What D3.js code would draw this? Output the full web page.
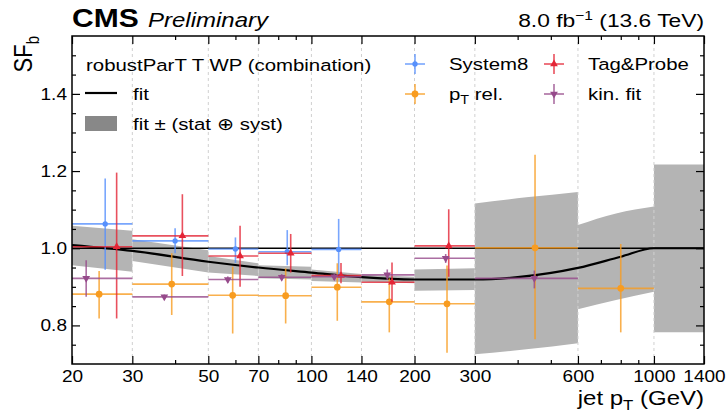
<!DOCTYPE html>
<meta charset="utf-8">
<style>
  body { margin: 0; background: #fff; }
  svg { display: block; font-family: "Liberation Sans", Arial, Helvetica, sans-serif; }
</style>
<svg width="728" height="416"></svg>
<script src="https://cdn.jsdelivr.net/npm/d3@7"></script>
<script>
//
// DATA
//
var binEdges = [20, 30, 50, 70, 100, 140, 200, 300, 600, 1000, 1400];
var xTicks = [20, 30, 50, 70, 100, 140, 200, 300, 600, 1000, 1400],
    xMinor = [40, 60, 80, 90, 400, 500, 700, 800, 900],
    yTicks = [0.8, 1.0, 1.2, 1.4],
    yMinor = [0.75, 0.85, 0.9, 0.95, 1.05, 1.1, 1.15, 1.25, 1.3, 1.35, 1.45, 1.5];

// fit curve
var fitPt = [20, 30, 50, 70, 100, 140, 200, 300, 400, 600, 800, 1000, 1400],
    fitSF = [1.008, 0.993, 0.965, 0.950, 0.937, 0.925, 0.919, 0.919, 0.925, 0.949, 0.978, 1.0, 1.0];

// fit +- (stat + syst) band, one group per bin
var bandPt = [[20, 30], [30, 50], [50, 70], [70, 100], [100, 140], [140, 200], [200, 300], [300, 424, 600], [600, 775, 1000], [1000, 1400]],
    bandHi = [[1.058, 1.045], [1.023, 0.995], [0.980, 0.961], [0.956, 0.952], [0.945, 0.933], [0.931, 0.926], [0.945, 0.948], [1.116, 1.132, 1.146], [1.060, 1.090, 1.108], [1.217, 1.217]],
    bandLo = [[0.956, 0.939], [0.967, 0.937], [0.937, 0.928], [0.922, 0.919], [0.915, 0.911], [0.913, 0.909], [0.890, 0.892], [0.725, 0.738, 0.754], [0.842, 0.866, 0.887], [0.782, 0.782]];

// System8
var s8Pt = [25.0, 40.0, 60.0, 85.0, 120.1],
    s8SF = [1.063, 1.019, 0.998, 0.991, 0.997],
    s8Hi = [1.181, 1.052, 1.028, 1.047, 1.076],
    s8Lo = [0.944, 0.987, 0.962, 0.956, 0.931];

// pT rel.
var ptrelPt = [24.0, 39.1, 58.9, 84.1, 119.0, 168.8, 248.8, 449.6, 800],
    ptrelSF = [0.881, 0.907, 0.878, 0.877, 0.899, 0.861, 0.856, 1.001, 0.896],
    ptrelHi = [0.941, 0.987, 0.952, 0.948, 0.961, 0.922, 0.955, 1.242, 1.011],
    ptrelLo = [0.818, 0.827, 0.779, 0.805, 0.812, 0.782, 0.729, 0.764, 0.782];

// Tag&Probe
var tpPt = [27.0, 42.0, 61.9, 87.0, 122.0, 171.9, 251.7],
    tpSF = [1.004, 1.032, 0.980, 0.987, 0.929, 0.912, 1.006],
    tpHi = [1.196, 1.140, 1.058, 1.037, 0.962, 0.963, 1.101],
    tpLo = [0.818, 0.928, 0.900, 0.937, 0.909, 0.861, 0.926];

// kin. fit
var kinPt = [22.0, 37.2, 57.0, 81.9, 116.6, 166.5, 246.6, 447.5],
    kinSF = [0.922, 0.874, 0.919, 0.925, 0.926, 0.931, 0.974, 0.922],
    kinHi = [0.969, 0.880, 0.927, 0.933, 0.934, 0.945, 0.985, 0.942],
    kinLo = [0.874, 0.868, 0.911, 0.917, 0.918, 0.918, 0.962, 0.896];

var series = [
  {name: "System8", color: "#5790fc", type: d3.symbolCircle, size: 22, rot: 0, pt: s8Pt, sf: s8SF, hi: s8Hi, lo: s8Lo},
  {name: "pT rel.", color: "#f89c20", type: d3.symbolCircle, size: 36, rot: 0, pt: ptrelPt, sf: ptrelSF, hi: ptrelHi, lo: ptrelLo},
  {name: "Tag&Probe", color: "#e42536", type: d3.symbolTriangle, size: 26, rot: 0, pt: tpPt, sf: tpSF, hi: tpHi, lo: tpLo},
  {name: "kin. fit", color: "#964a8b", type: d3.symbolTriangle, size: 26, rot: 180, pt: kinPt, sf: kinSF, hi: kinHi, lo: kinLo}
];

//
// SVG SETUP
//
var svg = d3.select("svg"),
    margin = {top: 36, left: 72},
    width = 632,
    height = 328,
    stretch = 1.2; // the reference text is drawn wider than it is tall

var g = svg.append("g").attr("transform", "translate(" + margin.left + "," + margin.top + ")");

var x = d3.scaleLog().domain([20, 1400]).range([0, width]);
var y = d3.scaleLinear().domain([0.7, 1.55]).range([height, 0]);

// text helper: a text node inside a horizontally stretched group
function label(parent, px, py, size, anchor, sx) {
  return parent.append("g")
      .attr("transform", "translate(" + px + "," + py + ") scale(" + (sx || stretch) + ",1)")
    .append("text")
      .attr("font-size", size)
      .attr("text-anchor", anchor || "start");
}

// BAND
var area = d3.area()
    .curve(d3.curveMonotoneX)
    .x(function(d) { return x(d.pt); })
    .y0(function(d) { return y(d.lo); })
    .y1(function(d) { return y(d.hi); });

bandPt.forEach(function(pts, i) {
  var rows = pts.map(function(p, j) { return {pt: p, hi: bandHi[i][j], lo: bandLo[i][j]}; });
  g.append("path")
    .datum(rows)
    .attr("d", area)
    .attr("fill", "#b4b4b4");
});

// GRID (vertical dashed lines at the labelled ticks)
g.append("g")
  .selectAll("line")
  .data(xTicks.slice(1, -1))
  .enter().append("line")
    .attr("x1", function(d) { return x(d); })
    .attr("x2", function(d) { return x(d); })
    .attr("y1", 0)
    .attr("y2", height)
    .attr("stroke", "#d0d0d0")
    .attr("stroke-width", 1)
    .attr("stroke-dasharray", "3,3");

// reference line at SF = 1
g.append("line")
  .attr("x1", 0).attr("x2", width)
  .attr("y1", y(1)).attr("y2", y(1))
  .attr("stroke", "#000")
  .attr("stroke-width", 1.5);

// FIT LINE
var line = d3.line()
    .curve(d3.curveMonotoneX)
    .x(function(d, i) { return x(fitPt[i]); })
    .y(function(d) { return y(d); });

g.append("path")
  .datum(fitSF)
  .attr("d", line)
  .attr("fill", "none")
  .attr("stroke", "#000")
  .attr("stroke-width", 2.2);

// DATA POINTS WITH ERROR BARS
series.forEach(function(s) {
  var sg = g.append("g");
  s.pt.forEach(function(p, i) {
    var b = d3.bisectRight(binEdges, p) - 1;
    sg.append("line")
      .attr("x1", x(binEdges[b])).attr("x2", x(binEdges[b + 1]))
      .attr("y1", y(s.sf[i])).attr("y2", y(s.sf[i]))
      .attr("stroke", s.color).attr("stroke-opacity", 0.8).attr("stroke-width", 1.6);
    sg.append("line")
      .attr("x1", x(p)).attr("x2", x(p))
      .attr("y1", y(s.hi[i])).attr("y2", y(s.lo[i]))
      .attr("stroke", s.color).attr("stroke-opacity", 0.8).attr("stroke-width", 1.6);
    sg.append("path")
      .attr("d", d3.symbol().type(s.type).size(s.size))
      .attr("transform", "translate(" + x(p) + "," + y(s.sf[i]) + ") rotate(" + s.rot + ")")
      .attr("fill", s.color);
  });
});

// AXES (ticks point inward on all four sides)
function tickAxis(axis, values, len, labels) {
  return axis.tickValues(values).tickSize(-len).tickSizeOuter(0).tickPadding(5)
    .tickFormat(labels ? labels : "");
}

var gx = g.append("g").attr("transform", "translate(0," + height + ")")
  .call(tickAxis(d3.axisBottom(x), xTicks, 8, d3.format("d")));
g.append("g").attr("transform", "translate(0," + height + ")")
  .call(tickAxis(d3.axisBottom(x), xMinor, 4));
g.append("g").call(tickAxis(d3.axisTop(x), xTicks, 8));
g.append("g").call(tickAxis(d3.axisTop(x), xMinor, 4));

var gy = g.append("g").call(tickAxis(d3.axisLeft(y), yTicks, 8, d3.format(".1f")));
g.append("g").call(tickAxis(d3.axisLeft(y), yMinor, 4));
g.append("g").attr("transform", "translate(" + width + ",0)").call(tickAxis(d3.axisRight(y), yTicks, 8));
g.append("g").attr("transform", "translate(" + width + ",0)").call(tickAxis(d3.axisRight(y), yMinor, 4));

g.selectAll(".domain").remove();
g.selectAll(".tick line").attr("stroke", "#000").attr("stroke-width", 1.2);
g.selectAll(".tick text").attr("fill", "#000").attr("font-family", null).attr("font-size", 17)
  .attr("transform", "scale(1.12,1)");
gx.selectAll(".tick text").attr("dy", "0.75em");
gy.selectAll(".tick text").attr("x", -4.5);

// frame
g.append("rect")
  .attr("width", width).attr("height", height)
  .attr("fill", "none").attr("stroke", "#000").attr("stroke-width", 1.5);

// AXIS TITLES
var xl = label(svg, margin.left + width, 405, 20, "end");
xl.append("tspan").text("jet p");
xl.append("tspan").attr("font-size", 14).attr("dy", 5).text("T");
xl.append("tspan").attr("dy", -5).text(" (GeV)");

var yl = svg.append("g")
    .attr("transform", "translate(32," + margin.top + ") scale(" + stretch + ",1) rotate(-90)")
  .append("text")
    .attr("text-anchor", "end").attr("font-size", 22);
yl.append("tspan").text("SF");
yl.append("tspan").attr("font-size", 15).attr("dy", 6).text("b");

// HEADER
label(svg, margin.left, 27, 25).attr("font-weight", "bold").text("CMS");
label(svg, 148, 27, 20).attr("font-style", "italic").text("Preliminary");

var lumi = label(svg, margin.left + width, 27, 19, "end");
lumi.append("tspan").text("8.0 fb");
lumi.append("tspan").attr("font-size", 13).attr("dy", -7).text("\u22121");
lumi.append("tspan").attr("dy", 7).text(" (13.6 TeV)");

// LEGEND (left: fit)
var lg = svg.append("g");
label(lg, 86, 71, 17).text("robustParT T WP (combination)");
lg.append("line").attr("x1", 85).attr("x2", 117).attr("y1", 93).attr("y2", 93)
  .attr("stroke", "#000").attr("stroke-width", 2.2);
label(lg, 133, 100, 17).text("fit");
lg.append("rect").attr("x", 85).attr("y", 116).attr("width", 32).attr("height", 15).attr("fill", "#888");
label(lg, 133, 130, 17).text("fit \u00b1 (stat \u2295 syst)");

// LEGEND (right: methods, two columns)
var legPos = [[415, 64], [415, 94], [554, 64], [554, 94]];
series.forEach(function(s, i) {
  var cx = legPos[i][0], cy = legPos[i][1];
  var e = lg.append("g");
  e.append("line").attr("x1", cx - 10).attr("x2", cx + 10).attr("y1", cy).attr("y2", cy)
    .attr("stroke", s.color).attr("stroke-opacity", 0.8).attr("stroke-width", 1.6);
  e.append("line").attr("x1", cx).attr("x2", cx).attr("y1", cy - 10).attr("y2", cy + 10)
    .attr("stroke", s.color).attr("stroke-opacity", 0.8).attr("stroke-width", 1.6);
  e.append("path")
    .attr("d", d3.symbol().type(s.type).size(s.size))
    .attr("transform", "translate(" + cx + "," + cy + ") rotate(" + s.rot + ")")
    .attr("fill", s.color);
  var t = label(e, cx + 34, cy + 6, 17);
  if (s.name == "pT rel.") {
    t.append("tspan").text("p");
    t.append("tspan").attr("font-size", 12).attr("dy", 4).text("T");
    t.append("tspan").attr("dy", -4).text(" rel.");
  } else {
    t.text(s.name);
  }
});
</script>
